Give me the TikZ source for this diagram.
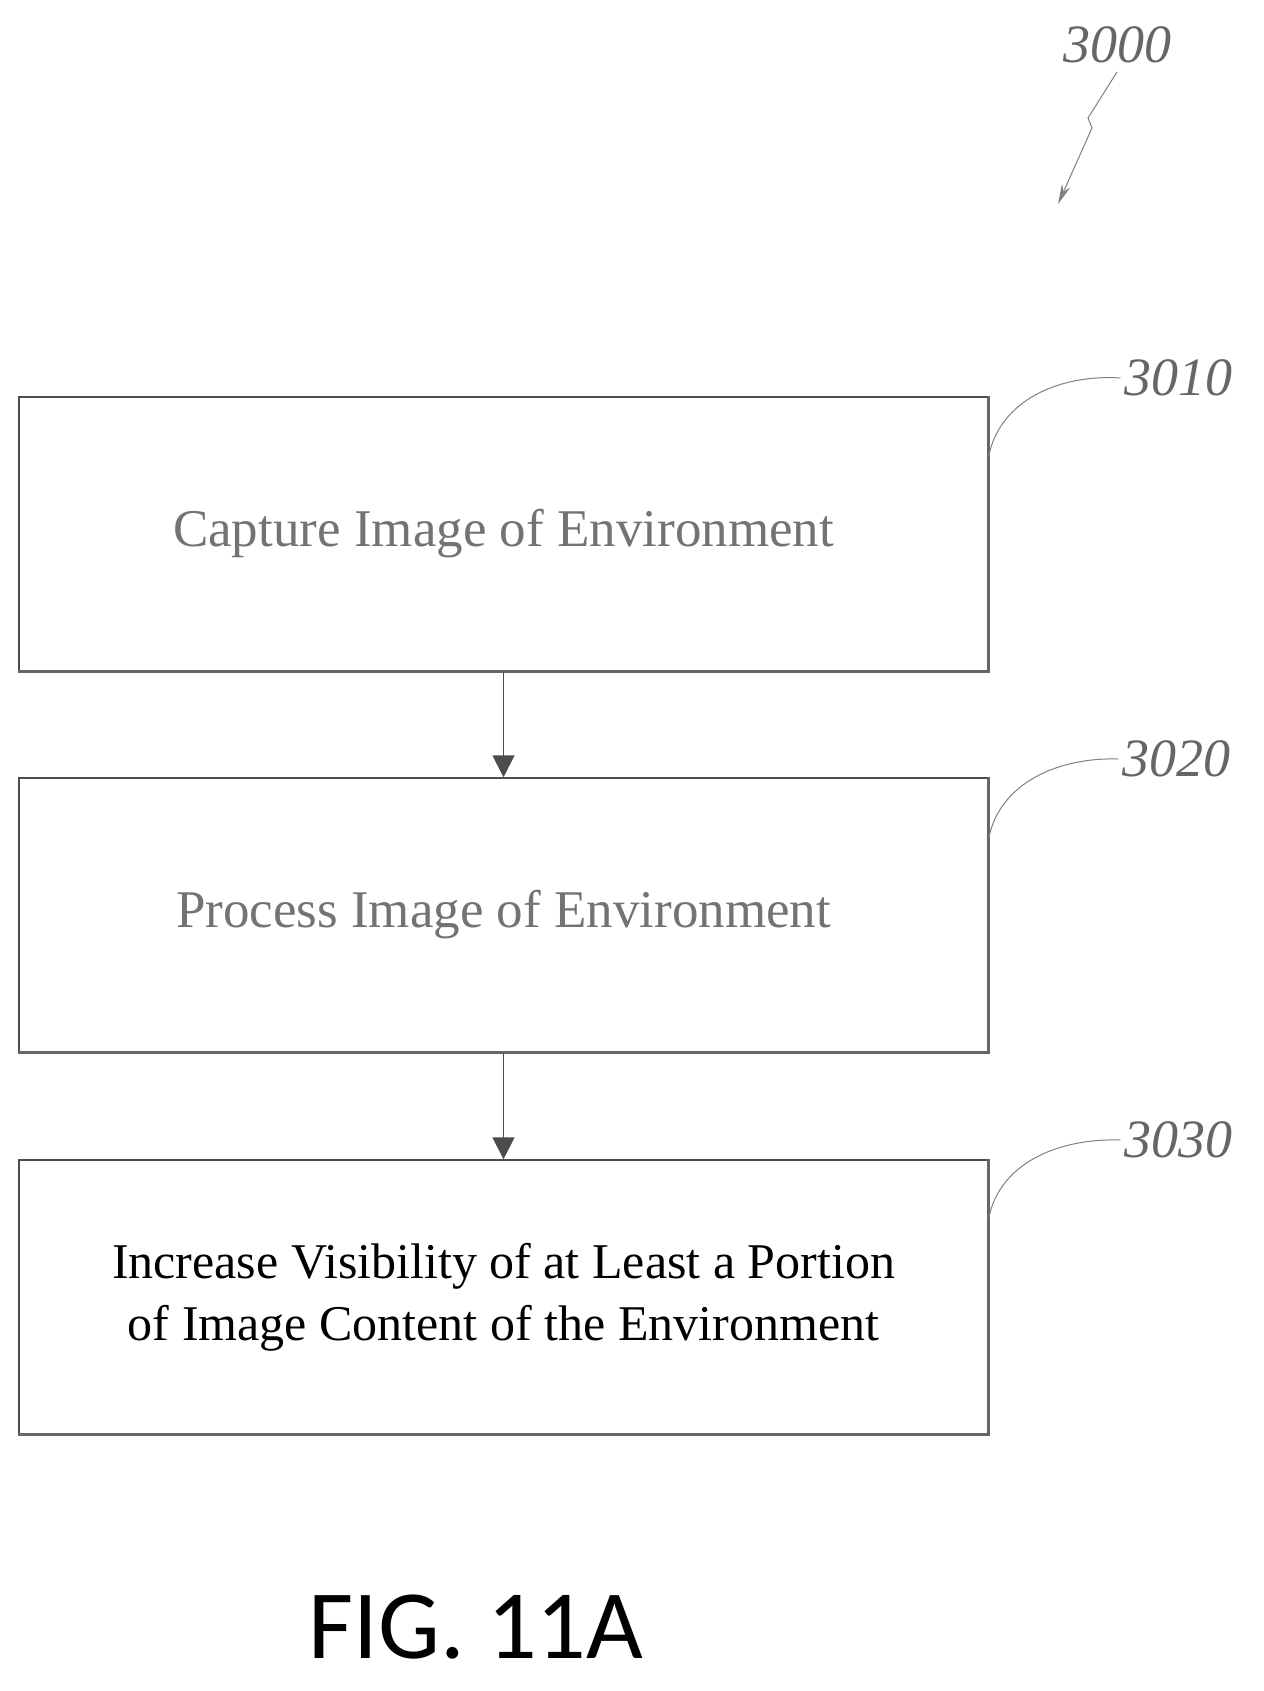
\documentclass[tikz,border=0pt]{standalone}
\usepackage{fontspec}
\setmainfont{Liberation Serif}
\newfontfamily\figfont{Carlito}
\usetikzlibrary{arrows.meta}
\begin{document}
\begin{tikzpicture}[x=1pt,y=-1pt,
  stepbox/.style={draw=black!70,line width=1.5pt,minimum width=969pt,minimum height=274pt,inner sep=0pt,align=center},
  lab/.style={font=\itshape\fontsize{54}{56}\selectfont,text=black!60},
  lead/.style={draw=black!50,line width=1pt},
  arr/.style={draw=black!70,line width=1.8pt,-{Triangle[length=22pt,width=22pt]}}]
\useasboundingbox (0,0) rectangle (1263,1691);
\node[stepbox,text=black!55,font=\fontsize{53}{60}\selectfont] (b1) at (503.5,534) {Capture Image of Environment};
\node[stepbox,text=black!55,font=\fontsize{53}{60}\selectfont] (b2) at (503.5,915) {Process Image of Environment};
\node[stepbox,font=\fontsize{50}{62}\selectfont] (b3) at (503.5,1297) {Increase Visibility of at Least a Portion\\of Image Content of the Environment};
\draw[black!60,line width=3pt] (b1.south west) -- (b1.south east) -- (b1.north east);
\draw[black!60,line width=3pt] (b2.south west) -- (b2.south east) -- (b2.north east);
\draw[black!60,line width=3pt] (b3.south west) -- (b3.south east) -- (b3.north east);
\draw[arr] (b1.south) -- (b2.north);
\draw[arr] (b2.south) -- (b3.north);
\node[lab] (l0) at (1117,45) {3000};
\node[lab] (l1) at (1178,378) {3010};
\node[lab] (l2) at (1176,759) {3020};
\node[lab] (l3) at (1178,1140) {3030};
\coordinate (z0) at (1117,72);
\draw[lead,-{Stealth[length=20pt,width=9pt]}] (z0) -- (1088,118) -- (1092,128) -- (1058,204);
\draw[lead] (b1.east |- 0,456) .. controls (1000,400) and (1060,374) .. (l1.west);
\draw[lead] (b2.east |- 0,838) .. controls (1000,782) and (1060,757) .. (l2.west);
\draw[lead] (b3.east |- 0,1218) .. controls (1000,1162) and (1060,1138) .. (l3.west);
\node[font=\figfont\fontsize{98}{100}\selectfont] (fig) at (476,1627) {FIG. 11A};
\end{tikzpicture}
\end{document}
